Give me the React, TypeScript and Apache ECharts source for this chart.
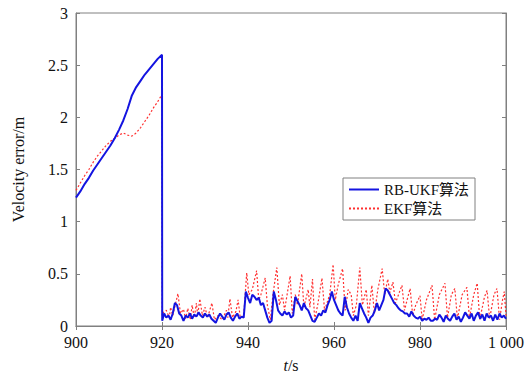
import React, { useEffect, useRef } from "react";
import * as echarts from "echarts";

const xTicks = [900, 920, 940, 960, 980, 1000];
const xTickLabels = ["900", "920", "940", "960", "980", "1 000"];
const yTicks = [0, 0.5, 1, 1.5, 2, 2.5, 3];

const tBlue = [
  900, 901, 902, 903, 904, 905, 906, 907, 908, 909, 910, 911, 912, 913, 914, 915, 916, 917, 918, 919, 920,
  920.05, 920.5, 921, 921.5, 922, 922.5, 923, 923.5, 924, 924.5, 925, 925.5, 926, 926.5, 927, 927.5, 928, 928.5, 929, 929.5,
  930, 930.5, 931, 931.5, 932, 932.5, 933, 933.5, 934, 934.5, 935, 935.5, 936, 936.5, 937, 937.5, 938, 938.5, 939, 939.5,
  940, 940.5, 941, 941.5, 942, 942.5, 943, 943.5, 944, 944.5, 945, 945.5, 946, 946.5, 947, 947.5, 948, 948.5, 949, 949.5,
  950, 950.5, 951, 951.5, 952, 952.5, 953, 953.5, 954, 954.5, 955, 955.5, 956, 956.5, 957, 957.5, 958, 958.5, 959, 959.5,
  960, 960.5, 961, 961.5, 962, 962.5, 963, 963.5, 964, 964.5, 965, 965.5, 966, 966.5, 967, 967.5, 968, 968.5, 969, 969.5,
  970, 970.5, 971, 971.5, 972, 972.5, 973, 973.5, 974, 974.5, 975, 975.5, 976, 976.5, 977, 977.5, 978, 978.5, 979, 979.5,
  980, 980.5, 981, 981.5, 982, 982.5, 983, 983.5, 984, 984.5, 985, 985.5, 986, 986.5, 987, 987.5, 988, 988.5, 989, 989.5,
  990, 990.5, 991, 991.5, 992, 992.5, 993, 993.5, 994, 994.5, 995, 995.5, 996, 996.5, 997, 997.5, 998, 998.5, 999, 999.5, 1000,
];
const rbUkf = [
  1.23, 1.29, 1.36, 1.42, 1.49, 1.55, 1.61, 1.67, 1.73, 1.8, 1.88, 1.97, 2.08, 2.21, 2.29, 2.35, 2.41, 2.46, 2.51, 2.56, 2.6,
  0.05, 0.12, 0.08, 0.1, 0.06, 0.12, 0.22, 0.2, 0.12, 0.1, 0.05, 0.1, 0.08, 0.12, 0.07, 0.11, 0.09, 0.13, 0.1, 0.08,
  0.12, 0.09, 0.11, 0.07, 0.05, 0.03, 0.08, 0.12, 0.09, 0.06, 0.11, 0.13, 0.08, 0.05, 0.09, 0.12, 0.07, 0.09, 0.08, 0.33,
  0.27, 0.22, 0.3, 0.28, 0.25, 0.27, 0.2, 0.22, 0.15, 0.08, 0.03, 0.05, 0.33, 0.25, 0.15, 0.12, 0.1, 0.14, 0.11, 0.13,
  0.08, 0.1, 0.28, 0.24, 0.2, 0.15, 0.22, 0.17, 0.15, 0.1, 0.05, 0.04, 0.08, 0.12, 0.1, 0.15, 0.13, 0.2, 0.25, 0.33,
  0.25, 0.2, 0.15, 0.12, 0.1, 0.28, 0.18, 0.12, 0.08, 0.05, 0.1, 0.05, 0.22, 0.17, 0.12, 0.08, 0.03, 0.08, 0.1, 0.15,
  0.22, 0.15, 0.2, 0.25, 0.36, 0.34, 0.3, 0.26, 0.22, 0.2, 0.17, 0.15, 0.14, 0.12, 0.12, 0.09, 0.14, 0.1, 0.08, 0.07,
  0.09, 0.05, 0.07, 0.06, 0.08, 0.05, 0.05, 0.07, 0.06, 0.11, 0.08, 0.04, 0.1, 0.07, 0.05, 0.09, 0.12, 0.06, 0.09, 0.04,
  0.08, 0.13, 0.1, 0.07, 0.12, 0.05, 0.1, 0.13, 0.07, 0.11, 0.05, 0.12, 0.08, 0.1, 0.05, 0.11, 0.06, 0.12, 0.08, 0.1, 0.07,
];

const tRed = [
  900, 901, 902, 903, 904, 905, 906, 907, 908, 909, 910, 911, 912, 913, 914, 915, 916, 917, 918, 919, 920,
  920.05, 920.3, 921, 921.7, 922, 922.5, 923.7, 924.3, 925, 925.5, 926, 926.6, 927, 927.5, 928, 928.3, 928.8, 929.4,
  930, 930.6, 931.6, 932.2, 933, 934, 935, 935.3, 935.8, 936.4, 937.2, 937.7, 938.2, 939, 939.7,
  940.2, 941, 942, 942.5, 943, 944, 944.5, 945.2, 945.8, 946.7, 947.3, 948, 948.5, 949.8,
  950.3, 951, 951.5, 952.5, 953, 954, 954.4, 955, 955.5, 956.2, 957.2, 957.8, 959, 959.8,
  960.3, 961, 962, 962.6, 963.3, 964, 964.5, 965.2, 966, 966.6, 967.5, 968, 968.8, 969.4,
  970.2, 971.2, 971.8, 972.5, 973, 973.7, 974.3, 975, 975.8, 976.4, 977, 977.7, 978.3, 979,
  980, 980.5, 981.5, 982.8, 983.4, 984.5, 985.8, 986.4, 987.3, 988.1, 988.7, 989.8,
  990.9, 991.5, 992.5, 993.3, 993.9, 995, 995.6, 996.2, 997.2, 997.9, 998.5, 999.2, 999.6, 1000,
];
const ekf = [
  1.3, 1.37, 1.44, 1.5, 1.57, 1.63, 1.68, 1.73, 1.77, 1.8, 1.83, 1.85, 1.83, 1.82, 1.85, 1.9, 1.96, 2.02, 2.09, 2.15, 2.22,
  0.1, 0.13, 0.15, 0.08, 0.18, 0.1, 0.31, 0.12, 0.16, 0.07, 0.17, 0.06, 0.2, 0.08, 0.22, 0.1, 0.26, 0.1,
  0.18, 0.08, 0.22, 0.06, 0.1, 0.06, 0.15, 0.08, 0.26, 0.08, 0.14, 0.25, 0.08, 0.1, 0.51,
  0.3, 0.35, 0.53, 0.25, 0.3, 0.46, 0.2, 0.06, 0.3, 0.56, 0.2, 0.3, 0.15, 0.48,
  0.12, 0.3, 0.2, 0.5, 0.18, 0.35, 0.18, 0.45, 0.06, 0.2, 0.46, 0.15, 0.3, 0.59,
  0.25, 0.4, 0.55, 0.15, 0.35, 0.3, 0.1, 0.2, 0.56, 0.2, 0.35, 0.1, 0.39, 0.12,
  0.35, 0.55, 0.3, 0.45, 0.32, 0.42, 0.22, 0.3, 0.39, 0.15, 0.25, 0.36, 0.1, 0.2,
  0.29, 0.06, 0.25, 0.39, 0.06, 0.3, 0.41, 0.08, 0.3, 0.36, 0.07, 0.3,
  0.37, 0.08, 0.3, 0.41, 0.06, 0.28, 0.34, 0.07, 0.3, 0.36, 0.06, 0.25, 0.33, 0.1,
];

const seriesNames = ["RB-UKF算法", "EKF算法"];

export default function App() {
  const ref = useRef<HTMLDivElement>(null);
  useEffect(() => {
    if (!ref.current) return;
    const chart = echarts.init(ref.current, undefined, { renderer: "svg" });
    const font = "'Liberation Serif', 'Times New Roman', 'Noto Sans CJK SC', serif";
    const axisColor = "#808080";
    const labelMap: Record<number, string> = {};
    xTicks.forEach((v, i) => (labelMap[v] = xTickLabels[i]));
    chart.setOption({
      animation: false,
      backgroundColor: "#fff",
      grid: { left: 76, right: 20, top: 13, bottom: 47, show: true, borderColor: axisColor, borderWidth: 1 },
      legend: {
        orient: "vertical",
        left: 343,
        top: 178,
        padding: [4, 6, 4, 5],
        itemGap: 4,
        itemWidth: 30,
        itemHeight: 14,
        itemStyle: { opacity: 0 },
        backgroundColor: "#fff",
        borderColor: axisColor,
        borderWidth: 1,
        borderRadius: 0,
        textStyle: { fontFamily: font, fontSize: 15, color: "#111" },
        data: seriesNames,
      },
      xAxis: [
        {
          type: "value",
          min: 900,
          max: 1000,
          interval: 20,
          name: "{i|t}/s",
          nameLocation: "middle",
          nameGap: 31,
          nameTextStyle: {
            fontFamily: font,
            fontSize: 16,
            color: "#111",
            rich: { i: { fontFamily: font, fontSize: 16, fontStyle: "italic", color: "#111" } },
          },
          axisLine: { show: true, lineStyle: { color: axisColor } },
          axisTick: { show: true, inside: true, length: 4, lineStyle: { color: axisColor } },
          axisLabel: {
            fontFamily: font,
            fontSize: 16,
            color: "#111",
            margin: 8,
            formatter: (v: number) => labelMap[v] ?? String(v),
          },
          splitLine: { show: false },
        },
        {
          type: "value",
          position: "top",
          min: 900,
          max: 1000,
          interval: 20,
          axisLine: { show: true, lineStyle: { color: axisColor } },
          axisTick: { show: true, inside: true, length: 4, lineStyle: { color: axisColor } },
          axisLabel: { show: false },
          splitLine: { show: false },
        },
      ],
      yAxis: [
        {
          type: "value",
          min: 0,
          max: 3,
          interval: 0.5,
          name: "Velocity error/m",
          nameLocation: "middle",
          nameGap: 50,
          nameTextStyle: { fontFamily: font, fontSize: 16, color: "#111" },
          axisLine: { show: true, lineStyle: { color: axisColor } },
          axisTick: { show: true, inside: true, length: 4, lineStyle: { color: axisColor } },
          axisLabel: {
            fontFamily: font,
            fontSize: 16,
            color: "#111",
            margin: 8,
            formatter: (v: number) => (yTicks.includes(v) ? String(v) : ""),
          },
          splitLine: { show: false },
        },
        {
          type: "value",
          position: "right",
          min: 0,
          max: 3,
          interval: 0.5,
          axisLine: { show: true, lineStyle: { color: axisColor } },
          axisTick: { show: true, inside: true, length: 4, lineStyle: { color: axisColor } },
          axisLabel: { show: false },
          splitLine: { show: false },
        },
      ],
      series: [
        {
          name: seriesNames[1],
          type: "line",
          symbol: "none",
          data: tRed.map((t, i) => [t, ekf[i]]),
          lineStyle: { color: "#ff3030", width: 1.2, type: [2, 2] },
          itemStyle: { color: "#ff3030" },
          z: 2,
        },
        {
          name: seriesNames[0],
          type: "line",
          symbol: "none",
          data: tBlue.map((t, i) => [t, rbUkf[i]]),
          lineStyle: { color: "#1414e0", width: 2 },
          itemStyle: { color: "#1414e0" },
          z: 3,
        },
      ],
    });
    return () => chart.dispose();
  }, []);
  return <div ref={ref} style={{ width: 527, height: 378, position: "absolute", left: 0, top: 0 }} />;
}
